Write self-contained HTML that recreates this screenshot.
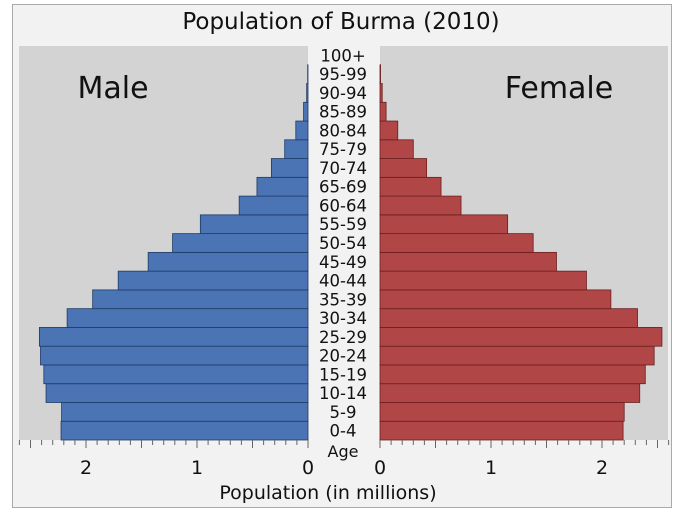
<!DOCTYPE html>
<html><head><meta charset="utf-8"><style>
body{margin:0;background:#fff;}
svg{display:block;font-family:"DejaVu Sans","Liberation Sans",sans-serif;}
</style></head><body>
<svg id="c" width="683" height="512">
<rect x="12.5" y="4.5" width="659" height="503" fill="#f2f2f2" stroke="#aaa"/>
<text x="341" y="29" font-size="23" text-anchor="middle" fill="#111">Population of Burma (2010)</text>
<rect x="19" y="46" width="289" height="394" fill="#d3d3d3"/>
<rect x="380" y="46" width="288" height="394" fill="#d3d3d3"/>
<text x="113" y="98" font-size="30" text-anchor="middle" fill="#111">Male</text>
<text x="559" y="98" font-size="30" text-anchor="middle" fill="#111">Female</text>
<g id="bars"></g><g id="labels"></g><g id="ticks"></g>
<text x="343" y="457" font-size="16" text-anchor="middle" fill="#111">Age</text>
<text x="328" y="499" font-size="19" text-anchor="middle" fill="#111">Population (in millions)</text>
</svg>
<script>
const ages=["0-4","5-9","10-14","15-19","20-24","25-29","30-34","35-39","40-44","45-49","50-54","55-59","60-64","65-69","70-74","75-79","80-84","85-89","90-94","95-99","100+"];
const male=[2.225,2.22,2.36,2.38,2.41,2.42,2.17,1.94,1.71,1.44,1.22,0.97,0.62,0.46,0.33,0.21,0.11,0.04,0.012,0.003,0];
const female=[2.19,2.2,2.34,2.39,2.47,2.54,2.32,2.08,1.86,1.59,1.38,1.15,0.73,0.55,0.42,0.30,0.16,0.055,0.02,0.005,0];
const tickLabels=[0,1,2];
const NS="http://www.w3.org/2000/svg";
const S=111, L0=308, R0=380, BOT=440, RH=394/21;
const xL=v=>L0-v*S, xR=v=>R0+v*S, yRow=i=>BOT-(i+1)*RH;
function mk(t,a,p){const e=document.createElementNS(NS,t);for(const k in a)e.setAttribute(k,a[k]);p.appendChild(e);return e;}
const bars=document.getElementById('bars'),labels=document.getElementById('labels'),ticks=document.getElementById('ticks');
ages.forEach((a,i)=>{
  if(male[i]>0){const r=mk('rect',{x:xL(male[i]),y:yRow(i),width:male[i]*S,height:RH,fill:'#4a74b4',stroke:'#1f3a66','stroke-width':0.8},bars);
  
  }
  if(female[i]>0){const r=mk('rect',{x:R0,y:yRow(i),width:female[i]*S,height:RH,fill:'#b04646',stroke:'#6a1f1f','stroke-width':0.8},bars);
  
  }
  const t=mk('text',{x:343,y:yRow(i)+RH/2+6,'font-size':16.5,'text-anchor':'middle',fill:'#111'},labels);
  t.textContent=a;
  
  
});
for(let k=0;k<=26;k++){
  const v=k/10,len=(k%5===0)?8:5;
  mk('line',{x1:xL(v),x2:xL(v),y1:BOT,y2:BOT+len,stroke:'#666','stroke-width':1},ticks);
  mk('line',{x1:xR(v),x2:xR(v),y1:BOT,y2:BOT+len,stroke:'#666','stroke-width':1},ticks);
}
tickLabels.forEach(v=>{
  const a=mk('text',{x:xL(v),y:474,'font-size':19,'text-anchor':'middle',fill:'#111'},ticks);a.textContent=v;
  
  
  const b=mk('text',{x:xR(v),y:474,'font-size':19,'text-anchor':'middle',fill:'#111'},ticks);b.textContent=v;
  
  
});
</script>
</body></html>
